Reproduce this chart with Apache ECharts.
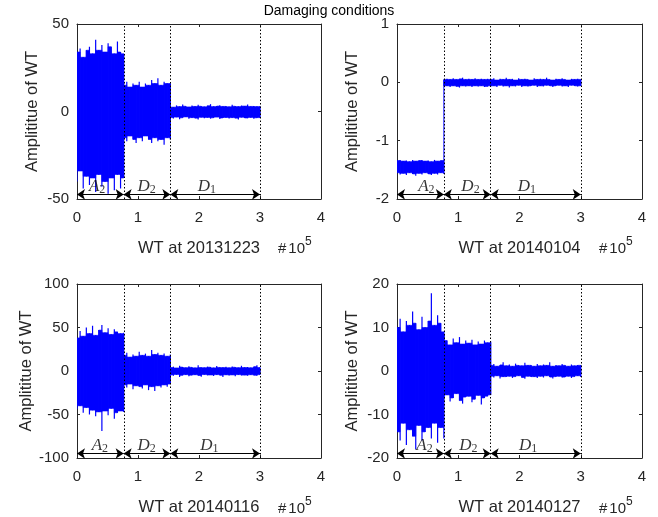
<!DOCTYPE html>
<html>
<head>
<meta charset="utf-8">
<script src="https://cdn.jsdelivr.net/npm/echarts@6/dist/echarts.min.js"></script>
<style>
  html, body { margin: 0; padding: 0; background: #fff; }
  #chart { width: 658px; height: 517px; }
</style>
</head>
<body>
<div id="chart"></div>
<script>
// ---- data ---------------------------------------------------------------
const chartTitle = 'Damaging conditions';
const panelNames = ['WT at 20131223', 'WT at 20140104', 'WT at 20140116', 'WT at 20140127'];
const yLabel = 'Amplititue of WT';

// x axis in units of 1e5 samples
const yMins = [-50, -2, -100, -20];
const yMaxs = [50, 1, 100, 20];
const ySteps = [50, 1, 50, 10];

// segment boundaries: A2 | D2 | D1
const segBounds = [0, 0.765, 1.53, 3.0];
const segLetters = ['A', 'D', 'D'];
const segSubs = ['2', '2', '1'];

// signal envelope (lower / upper) per segment, WT at 20131223
const s1A2Hi = [34, 36, 31, 35, 37, 33, 41, 35, 38, 34, 39, 37, 33, 40, 34, 33];
const s1A2Lo = [-40, -34, -44, -37, -42, -38, -46, -36, -43, -40, -47, -38, -45, -36, -44, -38];
const s1D2Hi = [15, 17, 14, 16, 15, 17, 14, 16, 15, 18, 16, 19, 15, 17, 16, 16];
const s1D2Lo = [-15, -17, -14, -16, -18, -15, -17, -14, -16, -18, -15, -17, -16, -19, -15, -16];
const s1D1Hi = [3, 2.5, 3.5, 2.8, 4, 3, 2.6, 3.4, 2.9, 3.8, 3, 2.7, 3.3, 4.2, 2.8, 3.1, 3.6, 2.9, 3.2, 2.7, 3.9, 3, 2.8, 3.4, 3.1, 4, 2.9, 3.2, 2.8, 3];
const s1D1Lo = [-3.5, -4, -3.2, -4.4, -3.6, -3.1, -4.2, -3.5, -3.8, -4.6, -3.3, -3.9, -3.4, -4.1, -3.6, -3.2, -4.3, -3.7, -3.4, -4, -3.5, -3.8, -4.5, -3.3, -3.7, -3.9, -3.4, -4.1, -3.6, -3.5];

// WT at 20140104
const s2A2Hi = [-1.34, -1.33, -1.35, -1.34, -1.36, -1.33, -1.35, -1.34, -1.33, -1.35, -1.34, -1.36, -1.33, -1.35, -1.34, -1.33];
const s2A2Lo = [-1.55, -1.58, -1.56, -1.59, -1.55, -1.57, -1.6, -1.56, -1.58, -1.55, -1.57, -1.59, -1.56, -1.58, -1.55, -1.57];
const s2D2Hi = [0.05, 0.06, 0.05, 0.07, 0.05, 0.06, 0.08, 0.05, 0.06, 0.05, 0.07, 0.05, 0.06, 0.05, 0.06, 0.05];
const s2D2Lo = [-0.07, -0.06, -0.08, -0.06, -0.07, -0.09, -0.06, -0.07, -0.06, -0.08, -0.06, -0.07, -0.06, -0.08, -0.07, -0.06];
const s2D1Hi = [0.05, 0.07, 0.04, 0.06, 0.05, 0.08, 0.05, 0.06, 0.04, 0.07, 0.05, 0.06, 0.05, 0.04, 0.07, 0.05, 0.06, 0.05, 0.08, 0.05, 0.04, 0.06, 0.05, 0.07, 0.05, 0.04, 0.06, 0.05, 0.06, 0.05];
const s2D1Lo = [-0.07, -0.06, -0.08, -0.05, -0.07, -0.06, -0.09, -0.06, -0.07, -0.05, -0.08, -0.06, -0.07, -0.06, -0.05, -0.08, -0.06, -0.07, -0.05, -0.06, -0.08, -0.06, -0.05, -0.07, -0.06, -0.08, -0.05, -0.06, -0.07, -0.06];

// WT at 20140116
const s3A2Hi = [38, 46, 40, 50, 43, 52, 41, 47, 53, 44, 49, 42, 48, 45, 43, 44];
const s3A2Lo = [-44, -40, -48, -42, -50, -45, -52, -47, -69, -46, -51, -43, -55, -48, -46, -47];
const s3D2Hi = [18, 21, 16, 19, 17, 22, 18, 20, 17, 24, 19, 21, 18, 20, 17, 19];
const s3D2Lo = [-16, -19, -15, -21, -17, -18, -20, -16, -22, -18, -23, -17, -19, -16, -18, -15];
const s3D1Hi = [4, 5, 3.5, 6, 4.5, 3.8, 5.5, 4.2, 3.6, 6.5, 4, 3.8, 5, 4.4, 3.6, 5.8, 4.1, 3.9, 4.8, 3.7, 5.2, 4.3, 3.8, 6, 4, 4.5, 3.7, 5, 6.5, 4];
const s3D1Lo = [-4.5, -5.5, -4, -7, -5, -4.2, -6, -4.8, -4.3, -5.2, -6.5, -4.1, -5, -4.6, -5.8, -4.2, -4.9, -6.8, -4.4, -5.3, -4.5, -6, -4.2, -5.1, -4.7, -5.6, -4.3, -4.9, -5.5, -4.2];

// WT at 20140127
const s4A2Hi = [10, 12, 9, 11.5, 10.5, 13.7, 11, 9.5, 12.5, 10, 11.5, 17.9, 10.5, 12.8, 11, 9];
const s4A2Lo = [-14, -16, -12, -17, -13.5, -15, -18, -12.5, -16, -14, -13, -15.5, -12, -16.5, -13, -15.5];
const s4D2Hi = [8.5, 7, 6, 7.5, 6.5, 7.8, 6.2, 7, 6.4, 7.2, 6, 6.8, 6.2, 7, 6.5, 6.8];
const s4D2Lo = [-6, -5.5, -7, -6.2, -5.2, -6.8, -7.5, -6, -5.8, -7.2, -6.5, -5.6, -7.7, -6.2, -5.8, -5.5];
const s4D1Hi = [1.3, 1.6, 1.1, 1.4, 2.0, 1.2, 1.5, 1.1, 1.7, 1.3, 1.2, 1.9, 1.3, 1.4, 1.1, 1.6, 1.2, 1.5, 1.3, 2.0, 1.1, 1.4, 1.2, 1.6, 1.3, 1.1, 1.5, 1.2, 1.4, 1.3];
const s4D1Lo = [-1.2, -1.5, -1.1, -1.7, -1.3, -1.4, -1.2, -1.6, -1.3, -1.1, -1.5, -1.8, -1.2, -1.4, -1.3, -1.6, -1.2, -1.5, -1.1, -1.4, -1.7, -1.3, -1.2, -1.5, -1.4, -1.2, -1.6, -1.3, -1.1, -1.4];

// ---- layout ---------------------------------------------------------------
const grids = [
  { left: 77, top: 24, width: 244, height: 175 },
  { left: 397, top: 24, width: 245, height: 175 },
  { left: 77, top: 284, width: 244, height: 175 },
  { left: 397, top: 284, width: 245, height: 175 }
];
// horizontal position of the segment labels (x units) per panel
const segLabelX = [
  [0.33, 1.14, 2.13],
  [0.48, 1.2, 2.12],
  [0.375, 1.14, 2.17],
  [0.45, 1.165, 2.14]
];

const envelopes = [
  [[s1A2Lo, s1A2Hi], [s1D2Lo, s1D2Hi], [s1D1Lo, s1D1Hi]],
  [[s2A2Lo, s2A2Hi], [s2D2Lo, s2D2Hi], [s2D1Lo, s2D1Hi]],
  [[s3A2Lo, s3A2Hi], [s3D2Lo, s3D2Hi], [s3D1Lo, s3D1Hi]],
  [[s4A2Lo, s4A2Hi], [s4D2Lo, s4D2Hi], [s4D1Lo, s4D1Hi]]
];

const SANS = '"Liberation Sans", Arial, Helvetica, sans-serif';
const SERIF = '"Liberation Serif", "Times New Roman", serif';
const INK = '#262626';
const BLUE = '#0000ff';

// build [x, lo, hi] points, segments laid end to end
function buildPoints(segs) {
  const pts = [];
  segs.forEach(([lo, hi], s) => {
    const x0 = segBounds[s], x1 = segBounds[s + 1];
    const n = lo.length;
    for (let k = 0; k < n; k++) {
      pts.push([x0 + (x1 - x0) * k / (n - 1), lo[k], hi[k]]);
    }
  });
  return pts;
}

// each sample: a thin vertical stroke lo..hi, plus a solid body up to the
// lower of the two neighbouring peaks
function bandRenderer(pts) {
  return function (params, api) {
    const i = params.dataIndex;
    const a = pts[i];
    const children = [];
    const top = api.coord([a[0], a[2]]);
    const bot = api.coord([a[0], a[1]]);
    children.push({
      type: 'line',
      shape: { x1: top[0], y1: top[1], x2: bot[0], y2: bot[1] },
      style: { stroke: BLUE, lineWidth: 1.2 }
    });
    if (i < pts.length - 1) {
      const b = pts[i + 1];
      const hiCore = Math.min(a[2], b[2]);
      const loCore = Math.max(a[1], b[1]);
      const p0 = api.coord([a[0], hiCore]);
      const p1 = api.coord([b[0], loCore]);
      children.push({
        type: 'rect',
        shape: { x: p0[0], y: p0[1], width: Math.max(p1[0] - p0[0], 0), height: p1[1] - p0[1] },
        style: { fill: BLUE, stroke: BLUE, lineWidth: 0.6 }
      });
    }
    return { type: 'group', children: children };
  };
}

const xAxes = [], yAxes = [], series = [], graphics = [];

grids.forEach((g, p) => {
  const tick = { inside: true, length: 3, lineStyle: { color: INK, width: 1 } };
  const line = { onZero: false, lineStyle: { color: INK, width: 1 } };
  xAxes.push({
    type: 'value', gridIndex: p, position: 'bottom', min: 0, max: 4, interval: 1,
    axisLine: line, axisTick: tick, splitLine: { show: false },
    axisLabel: { fontSize: 15, color: INK, fontFamily: SANS, margin: 11 },
    name: panelNames[p], nameLocation: 'middle', nameGap: 41,
    nameTextStyle: { fontSize: 16.5, color: INK, fontFamily: SANS }
  });
  xAxes.push({
    type: 'value', gridIndex: p, position: 'top', min: 0, max: 4, interval: 1,
    axisLine: line, axisTick: tick, splitLine: { show: false }, axisLabel: { show: false }
  });
  yAxes.push({
    type: 'value', gridIndex: p, position: 'left', min: yMins[p], max: yMaxs[p], interval: ySteps[p],
    axisLine: line, axisTick: tick, splitLine: { show: false },
    axisLabel: { fontSize: 15, color: INK, fontFamily: SANS, margin: 8 },
    name: yLabel, nameLocation: 'middle', nameGap: 36,
    nameTextStyle: { fontSize: 16.5, color: INK, fontFamily: SANS }
  });
  yAxes.push({
    type: 'value', gridIndex: p, position: 'right', min: yMins[p], max: yMaxs[p], interval: ySteps[p],
    axisLine: line, axisTick: tick, splitLine: { show: false }, axisLabel: { show: false }
  });

  const pts = buildPoints(envelopes[p]);
  const range = yMaxs[p] - yMins[p];
  const arrowY = yMins[p] + range * 0.026;

  // the signal + segment dividers
  series.push({
    type: 'custom', xAxisIndex: 2 * p, yAxisIndex: 2 * p,
    data: pts, encode: { x: 0, y: [1, 2] },
    renderItem: bandRenderer(pts), silent: true, clip: true,
    markLine: {
      silent: true, symbol: 'none', animation: false,
      label: { show: false },
      lineStyle: { type: [1.5, 2], color: '#000', width: 1 },
      data: segBounds.slice(1).map(v => ({ xAxis: v }))
    }
  });

  // segment arrows and labels
  series.push({
    type: 'scatter', xAxisIndex: 2 * p, yAxisIndex: 2 * p,
    symbol: 'circle', symbolSize: 1, itemStyle: { color: 'rgba(0,0,0,0)' }, silent: true,
    data: segLetters.map((L, s) => ({
      value: [segLabelX[p][s], arrowY],
      label: { formatter: '{m|' + L + '}{s|' + segSubs[s] + '}' }
    })),
    label: {
      show: true, position: 'inside', offset: [0, -8],
      rich: {
        m: { fontFamily: SERIF, fontStyle: 'italic', fontSize: 17, color: '#000', lineHeight: 19, verticalAlign: 'middle' },
        s: { fontFamily: SERIF, fontSize: 12, color: '#000', lineHeight: 19, verticalAlign: 'bottom' }
      }
    },
    markLine: {
      silent: true, animation: false, symbol: ['arrow', 'arrow'], symbolSize: 8,
      label: { show: false },
      lineStyle: { type: 'solid', color: '#000', width: 1 },
      data: segLetters.map((L, s) => [
        { coord: [segBounds[s], arrowY] },
        { coord: [segBounds[s + 1], arrowY] }
      ])
    }
  });

  // axis multiplier
  graphics.push({
    type: 'text', left: g.left + g.width - 43, top: g.top + g.height + 37,
    style: {
      text: '{h|#}{a|10}{b|5}',
      rich: {
        h: { fontFamily: SANS, fontSize: 15, fill: INK, lineHeight: 20, verticalAlign: 'bottom', padding: [0, 2, 0, 0] },
        a: { fontFamily: SANS, fontSize: 15, fill: INK, lineHeight: 20, verticalAlign: 'bottom' },
        b: { fontFamily: SANS, fontSize: 12, fill: INK, lineHeight: 20, verticalAlign: 'top' }
      }
    }
  });
});

const chart = echarts.init(document.getElementById('chart'), null, { renderer: 'canvas' });
chart.setOption({
  animation: false,
  backgroundColor: '#fff',
  title: {
    text: chartTitle, left: 'center', top: 4, padding: 0,
    textStyle: { fontSize: 14, fontWeight: 'normal', color: '#000', fontFamily: SANS }
  },
  grid: grids,
  xAxis: xAxes,
  yAxis: yAxes,
  series: series,
  graphic: graphics
});
</script>
</body>
</html>
